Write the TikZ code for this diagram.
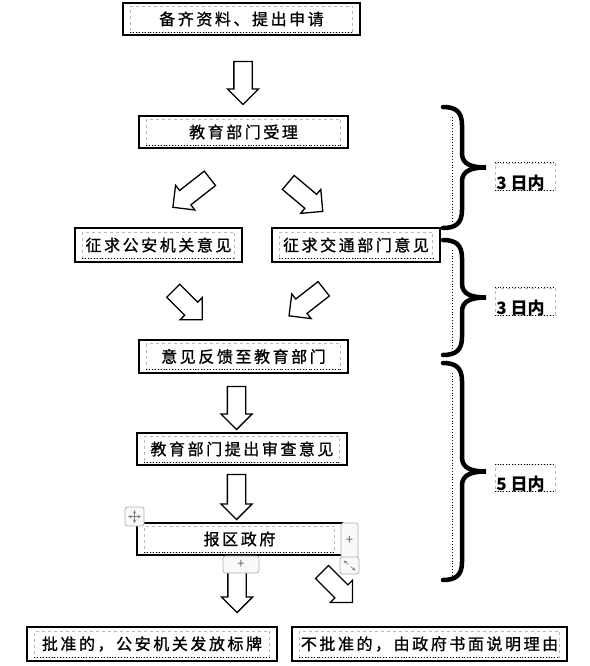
\documentclass[tikz,border=0pt]{standalone}
\usepackage{fontspec}
\newfontfamily\cjkfont[LetterSpace=16,FakeBold=1]{Noto Sans CJK SC}
\newfontfamily\dayfont{Noto Sans CJK SC}
\usetikzlibrary{shapes.arrows}

\tikzset{
  box outer/.style={draw,line width=1.1pt,minimum height=32pt,inner sep=0pt},
  box inner/.style={draw=gray!55,dashed,line width=0.8pt,inner sep=0pt,minimum height=26pt},
  box text/.style={font=\cjkfont\fontsize{16}{16}\selectfont,inner sep=0pt},
  block arrow/.style={single arrow,draw,fill=white,line width=1.3pt,
    inner xsep=0pt,inner ysep=8.5pt,single arrow head extend=6.5pt,minimum height=43pt},
  brace line/.style={line width=4.5pt,line cap=round},
  day text/.style={font=\dayfont\bfseries\fontsize{17}{17}\selectfont,inner sep=0pt,anchor=west},
  handle/.style={draw=gray!60,fill=gray!5,rounded corners=2.5pt,line width=0.7pt,inner sep=0pt},
  handle text/.style={font=\dayfont\fontsize{13}{13}\selectfont,text=gray!80!black},
}

% box with text-box frame inside
\newcommand{\flowbox}[5][]{
  \node[box outer,minimum width=#4,#1] at (#2) (#3) {};
  \node[box inner,minimum width=#4-15] at (#3) (#3-in) {};
  \draw[dotted,line width=0.9pt] (#3-in.south west) -- (#3-in.south east);
  \node[box text] at (#3) {#5};
}
% curly brace on the right, from top to bottom
\newcommand{\daybrace}[2]{
  \pgfmathsetmacro\bracemid{(#1+#2)/2}
  \draw[dotted,line width=0.8pt] (452,#1+10) -- (452,#2-5);
  \draw[brace line] (443,#1) .. controls (456,#1) and (462,#1+5) .. (462,#1+18)
    -- (462,\bracemid-14) .. controls (462,\bracemid-3) and (472,\bracemid) .. (486,\bracemid)
    .. controls (472,\bracemid) and (462,\bracemid+3) .. (462,\bracemid+14)
    -- (462,#2-18) .. controls (462,#2-5) and (456,#2) .. (443,#2);
}
\newcommand{\daylabel}[3]{
  \node[draw=gray!55,dashed,line width=0.8pt,minimum width=60pt,minimum height=27pt,inner sep=0pt] at (#1) (#2) {};
  \draw[dotted,line width=0.9pt] (#2.north west) -- (#2.north east) (#2.south west) -- (#2.south east);
  \node[day text] at ([xshift=1.5pt,yshift=-6.5pt]#2.west) {#3};
}

\begin{document}
\begin{tikzpicture}[x=1pt,y=-1pt]
  \useasboundingbox (0,0) rectangle (589,666);

  \flowbox{241.5,19}{apply}{237}{备齐资料、提出申请}
  \flowbox{243.5,132}{accept}{209}{教育部门受理}
  \flowbox[minimum height=34pt]{158.5,245}{police}{167}{征求公安机关意见}
  \flowbox[minimum height=34pt]{356,245}{traffic}{168}{征求交通部门意见}
  \flowbox[minimum height=33pt]{243.5,356.5}{feedback}{209}{意见反馈至教育部门}
  \flowbox{242,449}{review}{210}{教育部门提出审查意见}
  \flowbox{239.5,539}{district}{205}{报区政府}
  \flowbox[minimum height=34pt]{152,644}{approved}{250}{批准的，公安机关发放标牌}
  \flowbox[minimum height=34pt]{429.5,644}{rejected}{275}{不批准的，由政府书面说明理由}

  % block arrows
  \node[block arrow,rotate=-90] at (243,78.5) (a1) {};
  \node[block arrow,rotate=-142,minimum height=47pt] at (195,190) (d1) {};
  \node[block arrow,rotate=-40,minimum height=45pt] at (302,194) (d2) {};
  \node[block arrow,rotate=-45,minimum height=41pt] at (184.5,302) (d3) {};
  \node[block arrow,rotate=-142,minimum height=44pt] at (310,299.5) (d4) {};
  \node[block arrow,rotate=-90] at (236.5,403.5) (a2) {};
  \node[block arrow,rotate=-90,minimum height=45pt] at (236.5,492.5) (a3) {};
  \node[block arrow,rotate=-90,minimum height=48pt] at (237,584) (a4) {};
  \node[block arrow,rotate=-45,minimum height=43pt] at (334,584) (d5) {};

  % time limits
  \daybrace{107}{228}
  \daybrace{240}{355}
  \daybrace{363}{580}
  \daylabel{525,176.5}{days1}{3 日内}
  \daylabel{525,301.5}{days2}{3 日内}
  \daylabel{525,478}{days3}{5 日内}

  % editor handles round the selected box
  \node[handle,minimum width=19pt,minimum height=19pt] at (134.5,516.5) (move) {};
  \draw[gray,line width=0.6pt,<->,>=stealth] ([xshift=-6.5pt]move.center) -- ([xshift=6.5pt]move.center);
  \draw[gray,line width=0.6pt,<->,>=stealth] ([yshift=-6.5pt]move.center) -- ([yshift=6.5pt]move.center);
  \node[handle,minimum width=17pt,minimum height=35pt] at (349.5,540.5) (plusright) {};
  \node[handle text] at (plusright) {+};
  \node[handle,minimum width=19pt,minimum height=17pt] at (349.5,565.5) (resize) {};
  \draw[gray,line width=0.6pt,->,>=stealth] ([xshift=-1pt,yshift=1pt]resize.center) -- ([xshift=-6pt,yshift=5pt]resize.center);
  \draw[gray,line width=0.6pt,->,>=stealth] ([xshift=1pt,yshift=-1pt]resize.center) -- ([xshift=6pt,yshift=-5pt]resize.center);
  \node[handle,minimum width=36pt,minimum height=17pt] at (241,564.5) (plusbelow) {};
  \node[handle text] at (plusbelow) {+};
\end{tikzpicture}
\end{document}
